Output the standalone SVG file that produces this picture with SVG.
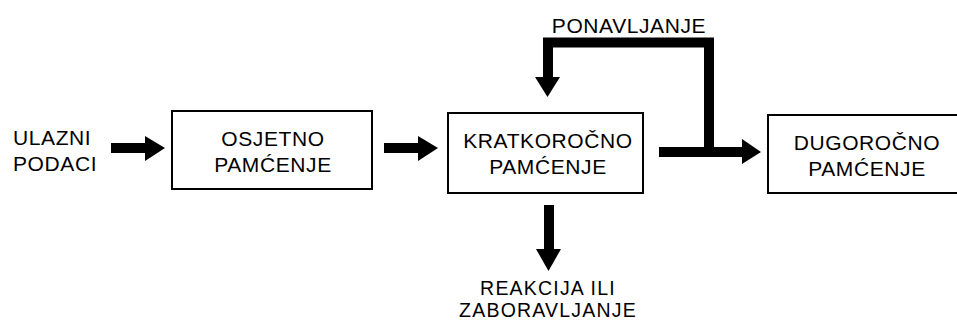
<svg xmlns="http://www.w3.org/2000/svg" width="957" height="327" viewBox="0 0 957 327">
<style>
text{font-family:"Liberation Sans",Arial,sans-serif;font-size:21px;letter-spacing:0.6px;fill:#000}
.box{fill:#fff;stroke:#000;stroke-width:2}
.c{text-anchor:middle}
.s{font-size:19.5px;letter-spacing:1.2px}
.sh{fill:none;stroke:#000;stroke-width:10}
.hd{fill:#000}
</style>
<rect width="957" height="327" fill="#fff"/>
<g id="connectors">
<line class="sh" x1="111" y1="148" x2="147" y2="148"/>
<polygon class="hd" points="145,136 165,148 145,161"/>
<line class="sh" x1="384" y1="148" x2="420" y2="148"/>
<polygon class="hd" points="418,136 438,148 418,161"/>
<line class="sh" x1="659" y1="152" x2="745" y2="152"/>
<polygon class="hd" points="742,139 761,152 742,164"/>
<polyline class="sh" points="709,152 709,42.5 548,42.5 548,80"/>
<polygon class="hd" points="535,77 560,77 547.5,97"/>
<line class="sh" x1="549" y1="205" x2="549" y2="252"/>
<polygon class="hd" points="536,249 561,249 548.5,271"/>
</g>
<g id="input">
<text x="13" y="145">ULAZNI</text>
<text x="13" y="171">PODACI</text>
</g>
<g id="osjetno">
<rect class="box" x="172" y="111" width="200" height="78"/>
<text class="c" x="273" y="146">OSJETNO</text>
<text class="c" x="273" y="172">PAMĆENJE</text>
</g>
<g id="kratkorocno">
<rect class="box" x="448" y="113" width="195" height="80"/>
<text class="c" x="548" y="148">KRATKOROČNO</text>
<text class="c" x="548" y="174">PAMĆENJE</text>
</g>
<g id="dugorocno">
<rect class="box" x="768" y="115" width="192" height="78"/>
<text class="c" x="867" y="150">DUGOROČNO</text>
<text class="c" x="867" y="176">PAMĆENJE</text>
</g>
<g id="ponavljanje">
<text class="c" x="629" y="33">PONAVLJANJE</text>
</g>
<g id="reakcija">
<text class="c s" x="548" y="295">REAKCIJA ILI</text>
<text class="c s" x="548" y="317">ZABORAVLJANJE</text>
</g>
</svg>
